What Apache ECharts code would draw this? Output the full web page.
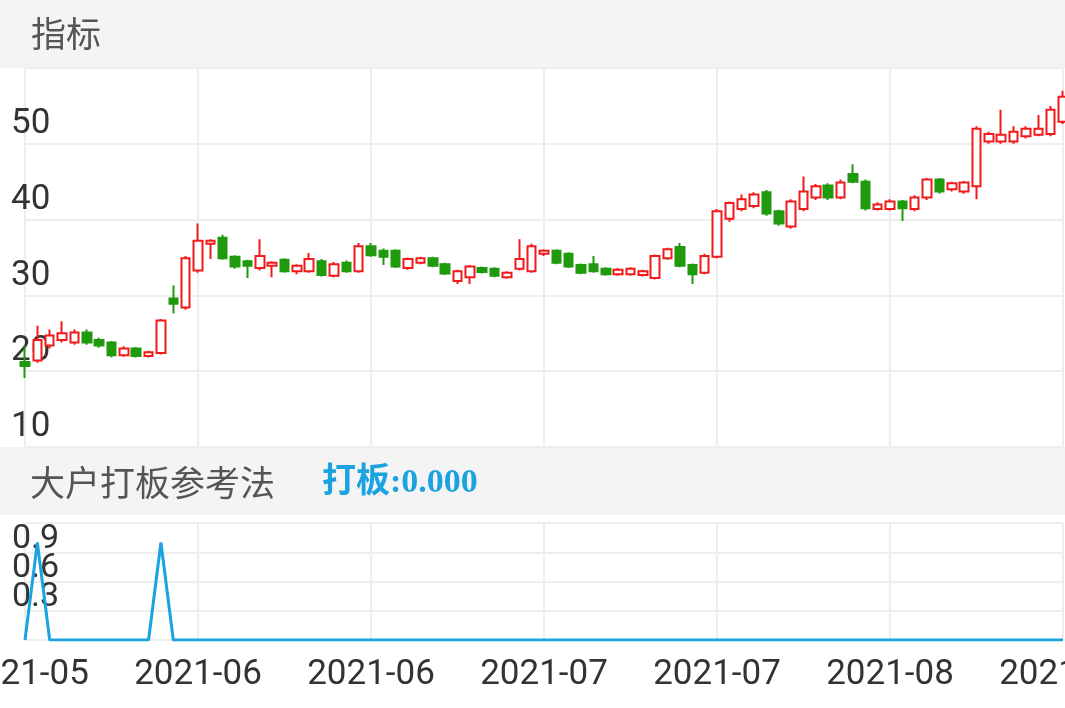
<!DOCTYPE html>
<html><head><meta charset="utf-8">
<script src="https://cdn.jsdelivr.net/npm/echarts@6/dist/echarts.min.js"></script>
<style>html,body{margin:0;padding:0;background:#fff}#c{width:1065px;height:708px}</style>
</head><body><div id="c"></div>
<script>
const categories = [
"2021-05","2021-05","2021-05","2021-05","2021-05","2021-05","2021-05","2021-05","2021-05","2021-05","2021-05","2021-05","2021-05","2021-05",
"2021-06","2021-06","2021-06","2021-06","2021-06","2021-06","2021-06","2021-06","2021-06","2021-06","2021-06","2021-06","2021-06","2021-06",
"2021-06","2021-06","2021-06","2021-06","2021-06","2021-06","2021-06","2021-06","2021-06","2021-06","2021-06","2021-06","2021-06","2021-06",
"2021-07","2021-07","2021-07","2021-07","2021-07","2021-07","2021-07","2021-07","2021-07","2021-07","2021-07","2021-07","2021-07","2021-07",
"2021-07","2021-07","2021-07","2021-07","2021-07","2021-07","2021-07","2021-07","2021-07","2021-07","2021-07","2021-07","2021-07","2021-07",
"2021-08","2021-08","2021-08","2021-08","2021-08","2021-08","2021-08","2021-08","2021-08","2021-08","2021-08","2021-08","2021-08","2021-08",
"2021-08"];
// [open, close, low, high]
const candles = [
[21.2,20.7,19.1,23.4],[21.4,24.1,21.1,26.0],[23.4,24.7,23.0,25.5],[24.1,25.0,23.8,26.6],[23.8,25.1,23.5,25.5],
[25.1,23.8,23.5,25.5],[24.1,23.4,23.1,24.4],[23.8,22.1,21.8,24.0],[22.1,23.0,21.9,23.3],[23.0,22.0,21.8,23.2],
[22.0,22.5,21.8,22.7],[22.4,26.7,22.2,26.9],[29.6,28.9,27.6,31.3],[28.4,34.9,28.1,35.2],[33.3,37.2,33.0,39.5],
[36.8,37.2,34.8,37.4],[37.6,34.9,34.7,38.0],[35.1,33.8,33.5,35.3],[34.5,33.9,32.3,34.7],[33.6,35.2,33.3,37.4],
[33.9,34.3,32.4,34.5],[34.7,33.2,33.0,34.9],[33.2,33.9,32.8,34.1],[33.2,34.8,33.0,35.6],[34.5,32.7,32.5,34.8],
[32.6,34.1,32.4,34.4],[34.3,33.2,33.0,34.6],[33.2,36.5,33.0,36.9],[36.5,35.3,35.1,36.9],[35.9,35.1,34.0,36.2],
[35.9,33.8,33.6,36.1],[33.6,34.8,33.4,35.0],[34.3,34.9,34.1,35.1],[34.9,33.9,33.7,35.1],[34.1,32.9,32.7,34.3],
[31.9,33.2,31.5,33.4],[32.4,33.8,31.5,34.0],[33.6,33.1,32.9,33.8],[33.5,32.6,32.4,33.7],[32.4,33.0,32.2,33.2],
[33.5,34.8,33.3,37.4],[33.2,36.5,33.0,36.8],[35.5,35.9,35.2,36.1],[35.9,34.3,34.1,36.1],[35.5,33.8,33.6,35.7],
[34.0,33.0,32.8,34.2],[34.1,33.2,33.0,35.2],[33.5,32.8,32.6,33.7],[32.8,33.4,32.6,33.6],[32.8,33.5,32.6,33.7],
[32.7,33.2,32.5,33.4],[32.3,35.2,32.1,35.4],[34.9,36.1,34.7,36.3],[36.4,33.9,33.7,36.9],[34.0,32.8,31.5,34.2],
[33.0,35.2,32.8,35.5],[35.1,41.1,34.9,41.4],[40.1,42.2,39.7,42.4],[41.4,42.7,41.1,43.3],[41.8,43.3,41.5,43.6],
[43.6,40.8,40.5,43.9],[41.1,39.5,39.2,41.3],[39.1,42.4,38.8,42.7],[41.4,43.7,41.1,45.7],[42.9,44.4,42.6,44.7],
[44.5,42.9,42.6,44.8],[42.9,44.9,42.7,45.3],[46.0,45.0,44.8,47.3],[45.0,41.5,41.2,45.3],[41.4,42.0,41.2,42.3],
[41.4,42.4,41.2,42.7],[42.4,41.5,39.8,42.6],[41.4,42.9,41.1,43.2],[42.9,45.3,42.6,45.5],[45.3,43.7,43.4,45.5],
[44.0,44.8,43.7,45.0],[43.7,44.9,43.4,45.1],[44.4,52.0,42.7,52.3],[50.3,51.3,50.0,51.6],[50.3,51.2,50.0,54.5],
[50.3,51.6,50.0,52.3],[51.0,52.0,50.7,52.3],[51.2,52.0,51.0,53.8],[51.3,54.5,51.0,55.0],[52.9,56.2,52.6,57.0]];
const signal = [0,1,0,0,0,0,0,0,0,0,0,1,0,0,0,0,0,0,0,0,0,0,0,0,0,0,0,0,0,0,0,0,0,0,0,0,0,0,0,0,0,0,0,0,0,0,0,0,0,0,0,0,0,0,0,0,0,0,0,0,0,0,0,0,0,0,0,0,0,0,0,0,0,0,0,0,0,0,0,0,0,0,0,0,0];

const chart = echarts.init(document.getElementById('c'));
const splitX = {show:true, interval:13, lineStyle:{color:'#eeeeee', width:2}};
const splitY = {show:true, lineStyle:{color:'#eeeeee', width:2}};
chart.setOption({
  animation:false,
  graphic:[
    {type:'rect', shape:{x:0,y:0,width:1065,height:68}, style:{fill:'#f4f4f4'}},
    {type:'text', x:31, y:34, style:{text:'指标', fill:'#555', font:'35px "Noto Sans CJK SC"', verticalAlign:'middle'}},
    {type:'rect', shape:{x:0,y:447,width:1065,height:68}, style:{fill:'#f4f4f4'}},
    {type:'text', x:30, y:483, style:{text:'大户打板参考法', fill:'#555', font:'35px "Noto Sans CJK SC"', verticalAlign:'middle'}},
    {type:'text', x:322, y:483, style:{text:'打板:0.000', fill:'#1aa3e0', font:'bold 34px "Liberation Serif", "Noto Sans CJK SC"', verticalAlign:'middle'}}
  ],
  grid:[
    {left:25, right:2, top:68, height:379, outerBoundsMode:'none', containLabel:false},
    {left:25, right:2, top:523, height:117, outerBoundsMode:'none', containLabel:false}
  ],
  xAxis:[
    {type:'category', gridIndex:0, data:categories, boundaryGap:false,
     axisLine:{show:false}, axisTick:{show:false}, axisLabel:{show:false}, splitLine:splitX},
    {type:'category', gridIndex:1, data:categories, boundaryGap:false,
     axisLine:{show:false}, axisTick:{show:false}, splitLine:splitX,
     axisLabel:{interval:13, color:'#333', fontSize:35, margin:18, fontFamily:'Roboto'}}
  ],
  yAxis:[
    {type:'value', gridIndex:0, min:10, max:60, interval:10, splitLine:splitY,
     axisLine:{show:false}, axisTick:{show:false},
     axisLabel:{inside:true, verticalAlign:'bottom', color:'#333', fontSize:35, margin:-14, padding:[0,0,2,0], showMaxLabel:false, fontFamily:'Roboto'}},
    {type:'value', gridIndex:1, min:0, max:1.2, interval:0.3, splitLine:splitY,
     axisLine:{show:false}, axisTick:{show:false},
     axisLabel:{inside:true, verticalAlign:'bottom', color:'#333', fontSize:34, margin:-13, padding:[0,0,0,0], showMaxLabel:false, showMinLabel:false, fontFamily:'Roboto', lineHeight:26}}
  ],
  series:[
    {type:'candlestick', xAxisIndex:0, yAxisIndex:0, data:candles, barWidth:9,
     itemStyle:{color:'#ffffff', borderColor:'#f21b1b', color0:'#1e9a0c', borderColor0:'#1e9a0c', borderWidth:2}},
    {type:'line', xAxisIndex:1, yAxisIndex:1, data:signal, symbol:'none',
     lineStyle:{color:'#1aa3e0', width:3}}
  ]
});
</script></body></html>
